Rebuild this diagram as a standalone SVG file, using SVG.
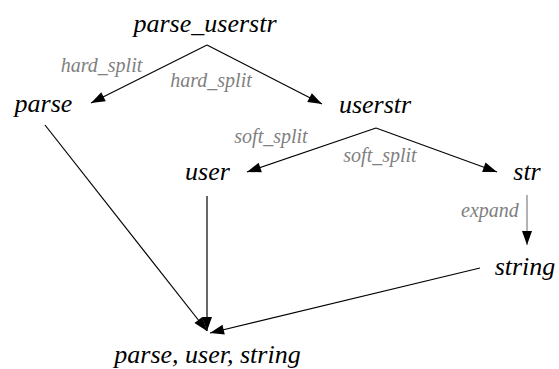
<svg xmlns="http://www.w3.org/2000/svg" width="559" height="369" viewBox="0 0 559 369">
  <style>
    .node { font-size: 26px; fill: #000; text-anchor: middle; font-style: italic; }
    .lbl { font-size: 20px; fill: #808080; text-anchor: middle; font-style: italic; }
  </style>
  <rect width="559" height="369" fill="#fff"/>

  <g id="parse_userstr"><text class="node" x="205" y="32" font-family="Liberation Serif">parse_userstr</text></g>
  <g id="parse"><text class="node" x="43.5" y="112" font-family="Liberation Serif">parse</text></g>
  <g id="userstr"><text class="node" x="375" y="113" font-family="Liberation Serif">userstr</text></g>
  <g id="user"><text class="node" x="207.5" y="180" font-family="Liberation Serif">user</text></g>
  <g id="str"><text class="node" x="527" y="180" font-family="Liberation Serif">str</text></g>
  <g id="string"><text class="node" x="525" y="275" font-family="Liberation Serif">string</text></g>
  <g id="result"><text class="node" x="207.5" y="363" font-family="Liberation Serif">parse, user, string</text></g>

  <g id="edge-labels">
    <text class="lbl" x="101.5" y="72" font-family="Liberation Serif">hard_split</text>
    <text class="lbl" x="211" y="87" font-family="Liberation Serif">hard_split</text>
    <text class="lbl" x="271" y="143" font-family="Liberation Serif">soft_split</text>
    <text class="lbl" x="380" y="162" font-family="Liberation Serif">soft_split</text>
    <text class="lbl" x="490" y="217" font-family="Liberation Serif">expand</text>
  </g>

  <marker id="arrow" markerUnits="userSpaceOnUse" markerWidth="16" markerHeight="12" viewBox="0 0 16 12" refX="15" refY="6" orient="auto">
    <path d="M1,1 L15,6 L1,11 Z" fill="#000"/>
  </marker>

  <g id="connectors" stroke="#000" stroke-width="1.2" fill="none" marker-end="url(#arrow)">
    <path d="M207,45 L91,103"/>
    <path d="M207,45 L322,104"/>
    <path d="M376,128 L247,172"/>
    <path d="M376,128 L497,172"/>
    <path d="M527,195 L527,245" stroke="#808080"/>
    <path d="M45,125 L207,331"/>
    <path d="M207,196 L207,331"/>
    <path d="M480,268 L210,333"/>
  </g>
</svg>
